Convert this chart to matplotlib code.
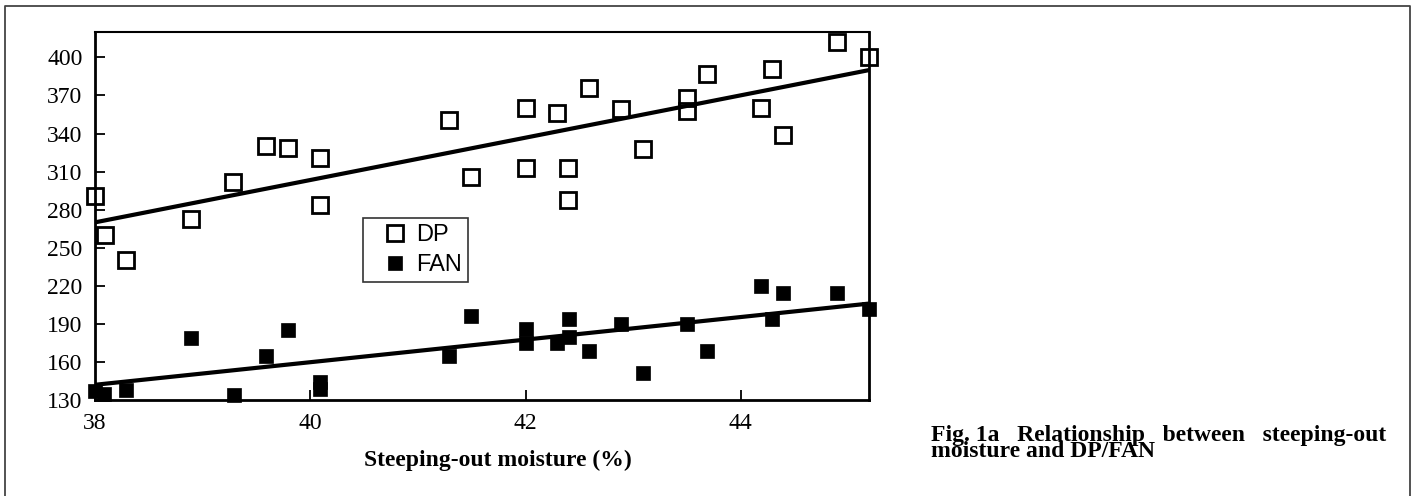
import matplotlib.pyplot as plt
from matplotlib.lines import Line2D

# steeping-out moisture (%) and DP / FAN values
dp_x = [38.0, 38.09, 38.29, 38.89, 39.28, 39.59, 39.79, 40.09, 40.09, 41.29,
        41.49, 42.0, 42.0, 42.29, 42.39, 42.39, 42.59, 42.89, 43.09, 43.5,
        43.5, 43.69, 44.19, 44.29, 44.39, 44.89, 45.19]
dp_y = [291, 260, 240, 273, 302, 330, 329, 321, 284, 351,
        306, 360, 313, 356, 313, 288, 376, 359, 328, 368,
        358, 387, 360, 391, 339, 412, 400]

fan_x = [38.0, 38.08, 38.29, 38.89, 39.29, 39.59, 39.79, 40.09, 40.09, 41.29,
         41.49, 42.0, 42.0, 42.29, 42.4, 42.4, 42.59, 42.89, 43.09, 43.5,
         43.69, 44.19, 44.29, 44.39, 44.89, 45.19]
fan_y = [137, 135, 138, 179, 134, 165, 185, 144, 139, 165,
         196, 186, 175, 175, 194, 180, 169, 190, 151, 190,
         169, 220, 194, 214, 214, 202]

# regression lines as drawn
fit_x = [38.0, 45.19]
dp_fit = [270, 390]
fan_fit = [142, 206]

serif = 'Liberation Serif'
sans = 'Liberation Sans'

fig = plt.figure(figsize=(14.15, 4.96), dpi=100)
ax = fig.add_axes([0.0671, 0.1935, 0.547, 0.7419])

ax.plot(fit_x, dp_fit, color='black', lw=3, solid_capstyle='butt', zorder=2)
ax.plot(fit_x, fan_fit, color='black', lw=3, solid_capstyle='butt', zorder=2)
ax.plot(dp_x, dp_y, ls='none', marker='s', ms=11.5, mfc='none', mec='black',
        mew=2, clip_on=False, zorder=3, label='DP')
ax.plot(fan_x, fan_y, ls='none', marker='s', ms=9.5, mfc='black', mec='black',
        mew=0.5, clip_on=False, zorder=3, label='FAN')

ax.set_xlim(38, 45.19)
ax.set_ylim(130, 420)
ax.set_xticks([38, 40, 42, 44])
ax.set_yticks(range(130, 401, 30))
ax.tick_params(direction='in', length=7, width=1.3, pad=9, labelsize=17)
for lab in ax.get_xticklabels() + ax.get_yticklabels():
    lab.set_fontfamily(serif)
for side in ['left', 'bottom', 'right']:
    ax.spines[side].set_linewidth(2)
ax.spines['top'].set_linewidth(1.5)

leg = ax.legend(loc='upper left', bbox_to_anchor=(0.346, 0.495), borderaxespad=0,
                frameon=True, fancybox=False, edgecolor='#333333', framealpha=1,
                prop={'family': sans, 'size': 17}, handlelength=2.2,
                handletextpad=-0.2, labelspacing=0.35, borderpad=0.25)
leg.get_frame().set_linewidth(1.2)

fig.text(498 / 1415, 30 / 496, 'Steeping-out moisture (%)', ha='center', va='baseline',
         family=serif, weight='bold', fontsize=17)

# caption, first line spread out like the justified original
caption = 'Fig. 1a   Relationship   between   steeping-out\nmoisture and DP/FAN'
fig.text(931 / 1415, 39 / 496, caption, ha='left', va='baseline', ma='left',
         family=serif, weight='bold', fontsize=17, linespacing=0.7)

# outer frame (open at the bottom)
fx0, fx1, fy1 = 5 / 1415, 1410 / 1415, 1 - 5.5 / 496
fig.add_artist(Line2D([fx0, fx0, fx1, fx1], [0, fy1, fy1, 0], color='#444444', lw=1.3))

fig.savefig('out.png', dpi=100)
